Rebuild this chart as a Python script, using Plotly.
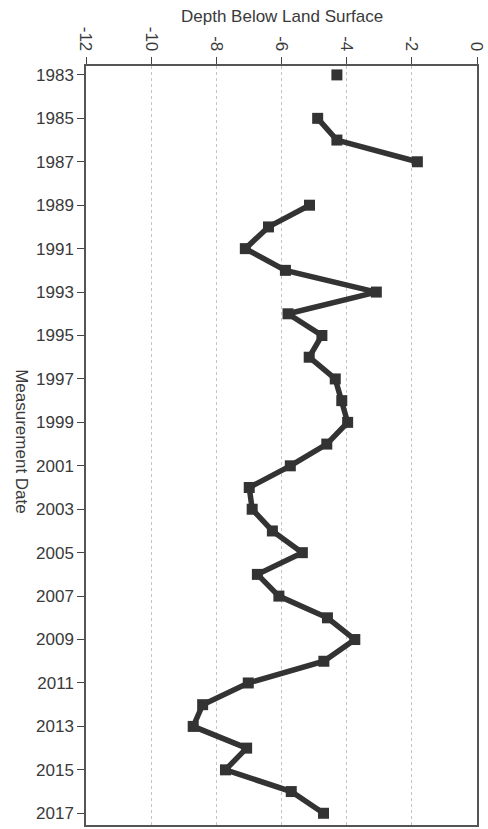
import plotly.graph_objects as go

years = [1983, 1984, 1985, 1986, 1987, 1988, 1989, 1990, 1991, 1992, 1993, 1994,
         1995, 1996, 1997, 1998, 1999, 2000, 2001, 2002, 2003, 2004, 2005, 2006,
         2007, 2008, 2009, 2010, 2011, 2012, 2013, 2014, 2015, 2016, 2017]
depth = [-4.30, None, -4.89, -4.30, -1.83, None, -5.14, -6.40, -7.11, -5.88, -3.09, -5.80,
         -4.76, -5.15, -4.35, -4.15, -3.97, -4.61, -5.73, -6.99, -6.90, -6.28, -5.36, -6.74,
         -6.08, -4.59, -3.75, -4.70, -7.02, -8.42, -8.71, -7.07, -7.72, -5.70, -4.71]

x_ticks = [-12, -10, -8, -6, -4, -2, 0]
x_tick_text = ["-12", "-10", "-8", "-6", "-4", "-2", "0"]
y_ticks = list(range(1983, 2018, 2))

font_family = "Liberation Sans, Arial, sans-serif"

fig = go.Figure()
fig.add_trace(go.Scatter(
    x=depth, y=years, mode="lines+markers", connectgaps=False,
    line=dict(color="#333333", width=5.5),
    marker=dict(symbol="square", size=11, color="#333333"),
    showlegend=False,
))

fig.update_layout(
    width=488, height=829,
    margin=dict(l=86, r=6, t=66, b=2),
    paper_bgcolor="white", plot_bgcolor="white",
    font=dict(family=font_family, size=17, color="#3a3a3a"),
    xaxis=dict(
        side="top", range=[-12, 0], tickvals=x_ticks, ticktext=x_tick_text,
        tickangle=90, ticks="outside", ticklen=7, tickcolor="#444",
        ticklabeloverflow="allow",
        showline=True, linecolor="#555", linewidth=1.5, mirror=True,
        showgrid=True, gridcolor="#bfc2d0", griddash="dot", gridwidth=1,
        zeroline=False, tickfont=dict(size=17, color="#3a3a3a"),
    ),
    yaxis=dict(
        range=[2017.54, 1982.59], tickvals=y_ticks,
        ticks="outside", ticklen=7, tickcolor="#444",
        showline=True, linecolor="#555", linewidth=1.5, mirror=True,
        showgrid=False, zeroline=False,
        tickfont=dict(size=17, color="#3a3a3a"),
    ),
    annotations=[
        dict(text="Depth Below Land Surface", xref="paper", yref="paper",
             x=0.5, y=1 + (66 - 16) / 761, xanchor="center", yanchor="middle",
             showarrow=False, font=dict(size=17, color="#3a3a3a")),
        dict(text="Measurement Date", xref="paper", yref="paper",
             x=(21 - 86) / 396, y=(827 - 443) / 761, xanchor="center", yanchor="middle",
             textangle=90, showarrow=False, font=dict(size=17, color="#3a3a3a")),
    ],
)

fig.write_html(
    "out.html",
    config={"displayModeBar": False},
    post_script="document.body.style.margin='0';document.body.style.overflow='hidden';",
)
